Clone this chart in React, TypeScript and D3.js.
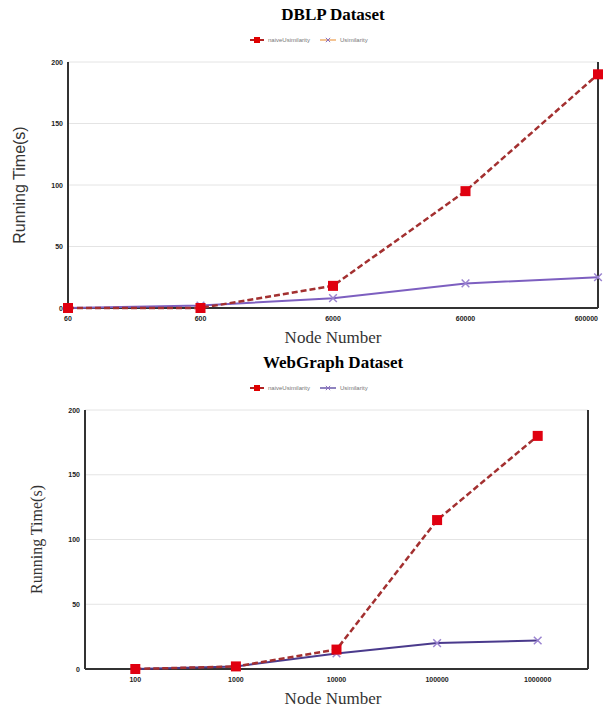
import React, { useEffect, useRef } from "react";
import * as d3 from "d3";

const dblpNodes = ["60", "600", "6000", "60000", "600000"];
const dblpNaive = [0, 0, 18, 95, 190];
const dblpUsim = [0, 2, 8, 20, 25];

const webNodes = ["100", "1000", "10000", "100000", "1000000"];
const webNaive = [0, 2, 15, 115, 180];
const webUsim = [0, 2, 12, 20, 22];

const yTicks = [0, 50, 100, 150, 200];
const seriesNames = ["naiveUsimilarity", "Usimilarity"];

function drawChart(svg, opts) {
  const { nodes, naive, usim, title, top, left, right, bottom, padding, yFont, uColor, legendColor } = opts;
  const g = svg.append("g");

  const x = d3.scalePoint().domain(nodes).range([left, right]).padding(padding);
  const y = d3.scaleLinear().domain([0, 200]).range([bottom, top]);

  // title
  g.append("text")
    .attr("x", 333)
    .attr("y", top - 42)
    .attr("text-anchor", "middle")
    .attr("font-family", "Liberation Serif, serif")
    .attr("font-weight", "bold")
    .attr("font-size", 17)
    .text(title);

  // legend
  const lg = g.append("g").attr("transform", `translate(250, ${top - 22})`);
  lg.append("line").attr("x1", 0).attr("x2", 14).attr("stroke", "#b22222").attr("stroke-width", 2);
  lg.append("rect").attr("x", 4).attr("y", -3).attr("width", 6).attr("height", 6).attr("fill", "#e00000");
  lg.append("text").attr("x", 18).attr("y", 2).attr("font-size", 6).attr("fill", "#777")
    .attr("font-family", "Liberation Sans, sans-serif").text(seriesNames[0]);
  lg.append("line").attr("x1", 70).attr("x2", 86).attr("stroke", legendColor).attr("stroke-width", 1.5);
  lg.append("path").attr("d", d3.symbol(d3.symbolX, 14)()).attr("transform", "translate(78,0)")
    .attr("stroke", "#8a6fc0").attr("fill", "none");
  lg.append("text").attr("x", 90).attr("y", 2).attr("font-size", 6).attr("fill", "#777")
    .attr("font-family", "Liberation Sans, sans-serif").text(seriesNames[1]);

  // grid
  g.selectAll(".grid")
    .data(yTicks.filter((d) => d > 0))
    .join("line")
    .attr("x1", left)
    .attr("x2", right)
    .attr("y1", (d) => y(d))
    .attr("y2", (d) => y(d))
    .attr("stroke", "#e4e4e4")
    .attr("stroke-width", 1);

  // frame
  g.append("line").attr("x1", left).attr("x2", left).attr("y1", top).attr("y2", bottom)
    .attr("stroke", "#333").attr("stroke-width", 2);
  g.append("line").attr("x1", right).attr("x2", right).attr("y1", top).attr("y2", bottom)
    .attr("stroke", "#333").attr("stroke-width", 2);
  g.append("line").attr("x1", left).attr("x2", right).attr("y1", bottom).attr("y2", bottom)
    .attr("stroke", "#333").attr("stroke-width", 2);

  // y tick labels
  g.selectAll(".yt")
    .data(yTicks)
    .join("text")
    .attr("x", left - 5)
    .attr("y", (d) => y(d) + 2.5)
    .attr("text-anchor", "end")
    .attr("font-size", 7)
    .attr("font-weight", "bold")
    .attr("font-family", "Liberation Sans, sans-serif")
    .attr("fill", "#222")
    .text((d) => d);

  // x tick labels (kept inside the page edge)
  g.selectAll(".xt")
    .data(nodes)
    .join("text")
    .attr("x", (d) => Math.min(x(d), 602))
    .attr("y", bottom + 13)
    .attr("text-anchor", (d) => (x(d) + 14 > 603 ? "end" : "middle"))
    .attr("font-size", 7)
    .attr("font-weight", "bold")
    .attr("font-family", "Liberation Sans, sans-serif")
    .attr("fill", "#222")
    .text((d) => d);

  // axis titles
  g.append("text")
    .attr("x", 333)
    .attr("y", bottom + 35)
    .attr("text-anchor", "middle")
    .attr("font-family", "Liberation Serif, serif")
    .attr("font-size", 17)
    .attr("fill", "#333")
    .text("Node Number");
  g.append("text")
    .attr("transform", `translate(${left - 43}, ${(top + bottom) / 2}) rotate(-90)`)
    .attr("text-anchor", "middle")
    .attr("font-family", yFont)
    .attr("font-size", 16)
    .attr("fill", "#333")
    .text("Running Time(s)");

  const line = d3.line().x((d, i) => x(nodes[i])).y((d) => y(d));

  // Usimilarity
  g.append("path")
    .attr("d", line(usim))
    .attr("fill", "none")
    .attr("stroke", uColor)
    .attr("stroke-width", 2);
  g.selectAll(".um")
    .data(usim)
    .join("path")
    .attr("d", d3.symbol(d3.symbolX, 40)())
    .attr("transform", (d, i) => `translate(${x(nodes[i])},${y(d)})`)
    .attr("stroke", "#9b84d0")
    .attr("stroke-width", 1.5)
    .attr("fill", "none");

  // naive
  g.append("path")
    .attr("d", line(naive))
    .attr("fill", "none")
    .attr("stroke", "#a33030")
    .attr("stroke-width", 2.5)
    .attr("stroke-dasharray", "6,3");
  g.selectAll(".nm")
    .data(naive)
    .join("rect")
    .attr("x", (d, i) => x(nodes[i]) - 5)
    .attr("y", (d) => y(d) - 5)
    .attr("width", 10)
    .attr("height", 10)
    .attr("fill", "#e00010");
}

export default function App() {
  const ref = useRef(null);
  useEffect(() => {
    const svg = d3.select(ref.current);
    svg.selectAll("*").remove();
    drawChart(svg, {
      nodes: dblpNodes,
      naive: dblpNaive,
      usim: dblpUsim,
      title: "DBLP Dataset",
      top: 62,
      bottom: 308,
      left: 68,
      right: 598,
      padding: 0,
      yFont: "Liberation Sans, sans-serif",
      uColor: "#7d5fc0",
      legendColor: "#f0b070",
    });
    drawChart(svg, {
      nodes: webNodes,
      naive: webNaive,
      usim: webUsim,
      title: "WebGraph Dataset",
      top: 410,
      bottom: 669,
      left: 85,
      right: 588,
      padding: 0.5,
      yFont: "Liberation Serif, serif",
      uColor: "#4a3a8c",
      legendColor: "#6a5aaa",
    });
  }, []);
  return (
    <svg
      ref={ref}
      width={603}
      height={709}
      style={{ position: "absolute", left: 0, top: 0, background: "#fff" }}
    />
  );
}
